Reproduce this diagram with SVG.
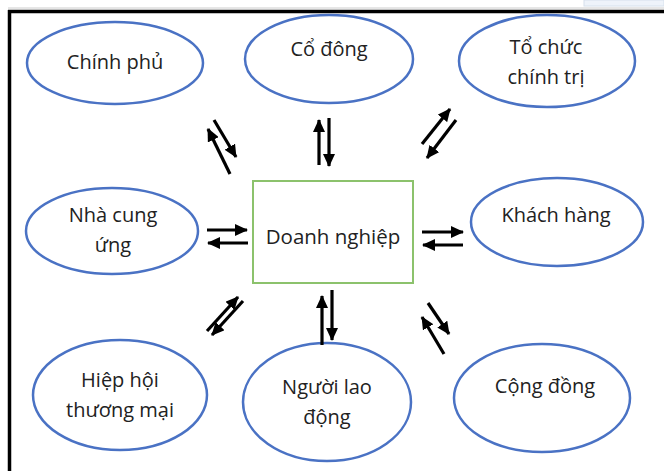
<svg xmlns="http://www.w3.org/2000/svg" width="664" height="471" viewBox="0 0 664 471">
<style>
.n ellipse{fill:#fff;stroke:#4a72c4;stroke-width:2.5}
.t{font-family:"Open Sans","Noto Sans",sans-serif;font-size:20px;fill:#222;text-anchor:middle}
.c line{stroke:#000;stroke-width:3.2}
</style>
<defs>
<marker id="ah" markerUnits="userSpaceOnUse" markerWidth="14" markerHeight="12" refX="12" refY="6" orient="auto">
<path d="M0,0 L13,6 L0,12 Z" fill="#000"/>
</marker>
</defs>
<rect width="664" height="471" fill="#fff"/>
<rect x="584" y="0" width="80" height="6" fill="#eef3fa" stroke="#d6e0ec" stroke-width="1"/>
<line x1="8" y1="8" x2="664" y2="8" stroke="#ccc" stroke-width="1"/>
<line x1="8" y1="11.5" x2="664" y2="11.5" stroke="#000" stroke-width="3.5"/>
<line x1="9.5" y1="10" x2="9.5" y2="471" stroke="#000" stroke-width="3.5"/>
<g id="chinh-phu" class="n"><ellipse cx="115" cy="63" rx="88" ry="41"/><text class="t" x="115" y="69">Chính phủ</text></g>
<g id="co-dong" class="n"><ellipse cx="329" cy="59" rx="84" ry="44"/><text class="t" x="329" y="56">Cổ đông</text></g>
<g id="to-chuc" class="n"><ellipse cx="547" cy="61" rx="88" ry="46"/><text class="t" x="546" y="54">Tổ chức</text><text class="t" x="546" y="84">chính trị</text></g>
<g id="nha-cung-ung" class="n"><ellipse cx="112" cy="231" rx="86" ry="43"/><text class="t" x="113" y="222">Nhà cung</text><text class="t" x="113" y="252">ứng</text></g>
<g id="doanh-nghiep"><rect x="253" y="181" width="160" height="102" fill="#fff" stroke="#8cc26c" stroke-width="2"/><text class="t" x="333" y="244" style="font-size:20.5px">Doanh nghiệp</text></g>
<g id="khach-hang" class="n"><ellipse cx="557" cy="222" rx="86" ry="44"/><text class="t" x="556" y="222">Khách hàng</text></g>
<g id="hiep-hoi" class="n"><ellipse cx="120" cy="395" rx="87" ry="55"/><text class="t" x="120" y="387">Hiệp hội</text><text class="t" x="120" y="417">thương mại</text></g>
<g id="nguoi-lao-dong" class="n"><ellipse cx="327" cy="402" rx="84" ry="59"/><text class="t" x="327" y="394">Người lao</text><text class="t" x="327" y="424">động</text></g>
<g id="cong-dong" class="n"><ellipse cx="542" cy="398" rx="88" ry="54"/><text class="t" x="545" y="393">Cộng đồng</text></g>
<g id="connectors" class="c">
<line x1="214" y1="120" x2="236" y2="157" marker-end="url(#ah)"/>
<line x1="230" y1="174" x2="208" y2="129" marker-end="url(#ah)"/>
<line x1="319" y1="165" x2="319" y2="120" marker-end="url(#ah)"/>
<line x1="329" y1="118" x2="329" y2="166" marker-end="url(#ah)"/>
<line x1="422" y1="144" x2="450" y2="109" marker-end="url(#ah)"/>
<line x1="456" y1="120" x2="427" y2="158" marker-end="url(#ah)"/>
<line x1="207" y1="230" x2="247" y2="230" marker-end="url(#ah)"/>
<line x1="248" y1="243" x2="208" y2="243" marker-end="url(#ah)"/>
<line x1="422" y1="232" x2="463" y2="232" marker-end="url(#ah)"/>
<line x1="463" y1="245" x2="423" y2="245" marker-end="url(#ah)"/>
<line x1="207" y1="331" x2="238" y2="297" marker-end="url(#ah)"/>
<line x1="243" y1="301" x2="212" y2="335" marker-end="url(#ah)"/>
<line x1="322" y1="345" x2="322" y2="296" marker-end="url(#ah)"/>
<line x1="332" y1="290" x2="332" y2="340" marker-end="url(#ah)"/>
<line x1="428" y1="303" x2="449" y2="334" marker-end="url(#ah)"/>
<line x1="444" y1="354" x2="422" y2="317" marker-end="url(#ah)"/>
</g>
</svg>
